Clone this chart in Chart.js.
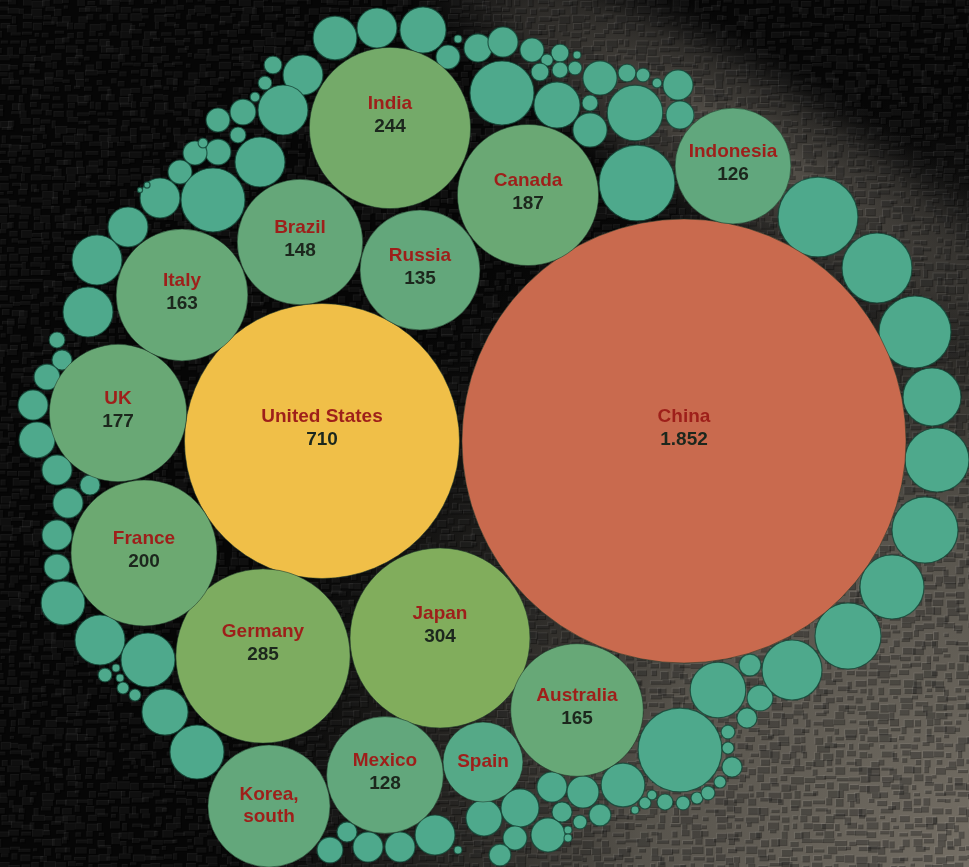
<!DOCTYPE html>
<html>
<head>
<meta charset="utf-8">
<script src="https://cdn.jsdelivr.net/npm/chart.js@4/dist/chart.umd.min.js"></script>
<style>
  html, body { margin: 0; padding: 0; background: #000; }
  #grafico { display: block; }
</style>
</head>
<body>
<canvas id="grafico" width="969" height="867"></canvas>
<script>
// paises com rotulo
const paises = ['China', 'United States', 'Japan', 'Germany', 'India', 'France', 'Canada', 'UK',
    'Australia', 'Italy', 'Brazil', 'Korea, south', 'Russia', 'Mexico', 'Indonesia', 'Spain'];
const valores = [1852, 710, 304, 285, 244, 200, 187, 177, 165, 163, 148, 140, 135, 128, 126, 60];
const semValor = ['Korea, south', 'Spain'];
const posX = [684, 322, 440, 263, 390, 144, 528, 118, 577, 182, 300, 269, 420, 385, 733, 483];
const posY = [441, 441, 638, 656, 128, 553, 195, 413, 710, 295, 242, 806, 270, 775, 166, 762];

// demais paises (sem rotulo)
const outrosValores = [18, 15, 20, 0.6, 5.4, 7.4, 8.5, 5.4, 3, 0.6, 1.4, 3, 2.4, 1.8, 38.5, 20, 2.4, 11, 11, 3,
    1.8, 0.9, 8.5, 29, 7.4, 54, 15, 3, 1.8, 0.9, 23.5, 6.3, 5.4, 2.4, 23.5, 6.3, 5.4, 0.9, 5.4, 38.5,
    15, 0.35, 0.25, 15, 23.5, 23.5, 2.4, 3.8, 6.3, 8.5, 12.2, 8.5, 3.8, 8.5, 8.5, 6.3, 18, 23.5, 27.4, 1.8,
    0.6, 0.6, 1.35, 1.35, 20, 27.4, 3.8, 6.3, 8.5, 8.5, 15, 0.6, 12.2, 13.6, 5.4, 4.5, 10.9, 8.5, 3.8, 1.8,
    0.6, 0.6, 9.6, 4.5, 18, 0.6, 1.35, 0.9, 2.4, 1.8, 1.35, 1.8, 66, 1.35, 3.8, 1.35, 1.8, 3.8, 29, 4.5,
    6.3, 33.8, 41, 38.5, 41, 38.5, 31.6, 48.7, 46, 60];
const outrosX = [335, 377, 423, 458, 448, 478, 503, 532, 560, 577, 547, 540, 560, 575, 502, 557, 590, 590, 600, 627,
    643, 657, 678, 635, 680, 637, 303, 273, 265, 255, 283, 243, 218, 238, 260, 218, 195, 203, 180, 213,
    160, 147, 140, 128, 97, 88, 57, 62, 47, 33, 37, 57, 90, 68, 57, 57, 63, 100, 148, 105,
    116, 120, 123, 135, 165, 197, 347, 330, 368, 400, 435, 458, 484, 520, 515, 500, 548, 552, 562, 580,
    568, 568, 583, 600, 623, 635, 645, 652, 665, 683, 697, 708, 680, 720, 732, 728, 728, 747, 718, 750,
    760, 792, 848, 892, 925, 937, 932, 915, 877, 818];
const outrosY = [38, 28, 30, 39, 57, 48, 42, 50, 53, 55, 60, 72, 70, 68, 93, 105, 103, 130, 78, 73,
    75, 83, 85, 113, 115, 183, 75, 65, 83, 97, 110, 112, 120, 135, 162, 152, 153, 143, 172, 200,
    198, 185, 190, 227, 260, 312, 340, 360, 377, 405, 440, 470, 485, 503, 535, 567, 603, 640, 660, 675,
    668, 678, 688, 695, 712, 752, 832, 850, 847, 847, 835, 850, 818, 808, 838, 855, 835, 787, 812, 822,
    830, 838, 792, 815, 785, 810, 803, 795, 802, 803, 798, 793, 750, 782, 767, 748, 732, 718, 690, 665,
    698, 670, 636, 587, 530, 460, 397, 332, 268, 217];

const LARGURA = 969, ALTURA = 867;
const FATOR_RAIO = 5.16; // pixels por raiz do valor (area proporcional)

// escala de cores por valor
const paradasCor = [
    [0, [78, 169, 140]], [60, [85, 169, 135]], [130, [98, 167, 124]], [180, [105, 168, 117]],
    [250, [117, 170, 104]], [300, [128, 173, 92]], [710, [240, 191, 72]], [1852, [201, 106, 78]]
];
function corPorValor(v) {
    for (let i = 1; i < paradasCor.length; i++) {
        const [v0, c0] = paradasCor[i - 1];
        const [v1, c1] = paradasCor[i];
        if (v <= v1) {
            const t = (v - v0) / (v1 - v0);
            const c = c0.map((x, k) => Math.round(x + (c1[k] - x) * t));
            return `rgb(${c[0]},${c[1]},${c[2]})`;
        }
    }
    return 'rgb(201,106,78)';
}

function hash(n) {
    const x = Math.sin(n * 12.9898) * 43758.5453;
    return x - Math.floor(x);
}

const fundo = {
    id: 'fundo',
    beforeDraw(chart) {
        const { ctx, width, height } = chart;
        ctx.save();
        ctx.fillStyle = '#060606';
        ctx.fillRect(0, 0, width, height);

        // cinza no canto inferior direito
        let g = ctx.createRadialGradient(width * 1.02, height * 1.0, 0, width * 1.02, height * 1.0, width * 0.8);
        g.addColorStop(0, 'rgba(118,112,102,1)');
        g.addColorStop(0.45, 'rgba(94,90,82,0.92)');
        g.addColorStop(0.8, 'rgba(52,50,46,0.45)');
        g.addColorStop(1, 'rgba(20,20,20,0)');
        ctx.fillStyle = g;
        ctx.fillRect(0, 0, width, height);

        // faixa clara diagonal no alto
        ctx.save();
        ctx.translate(width * 0.77, height * 0.17);
        ctx.rotate(0.55);
        ctx.scale(2.4, 0.55);
        g = ctx.createRadialGradient(0, 0, 0, 0, 0, 180);
        g.addColorStop(0, 'rgba(98,93,85,0.95)');
        g.addColorStop(0.6, 'rgba(70,67,62,0.6)');
        g.addColorStop(1, 'rgba(30,30,30,0)');
        ctx.fillStyle = g;
        ctx.beginPath();
        ctx.arc(0, 0, 180, 0, Math.PI * 2);
        ctx.fill();
        ctx.restore();

        // textura em relevo
        let n = 1;
        for (let y = 0; y < height; y += 8) {
            for (let x = 0; x < width; x += 11) {
                const w = 4 + hash(n) * 9;
                const h = 3 + hash(n + 1) * 5;
                const ox = hash(n + 2) * 6 - 3;
                const oy = hash(n + 3) * 4 - 2;
                ctx.fillStyle = 'rgba(255,255,255,0.07)';
                ctx.fillRect(x + ox - 1, y + oy - 1, w, h);
                ctx.fillStyle = 'rgba(0,0,0,0.32)';
                ctx.fillRect(x + ox, y + oy, w, h);
                n += 4;
            }
        }
        ctx.restore();
    }
};

const formatarValor = v => String(v).replace(/\B(?=(\d{3})+(?!\d))/g, '.');

const rotulos = {
    id: 'rotulos',
    afterDatasetsDraw(chart) {
        const { ctx } = chart;
        const meta = chart.getDatasetMeta(0);
        ctx.save();
        ctx.textAlign = 'center';
        ctx.textBaseline = 'middle';
        ctx.font = 'bold 19px "Liberation Sans", Arial, sans-serif';
        meta.data.forEach((el, i) => {
            const nome = paises[i];
            const r = el.options.radius;
            if (semValor.includes(nome)) {
                const linhas = nome.includes(',') ? [nome.split(',')[0] + ',', nome.split(',')[1].trim()] : [nome];
                const y0 = el.y - (linhas.length - 1) * 11;
                ctx.fillStyle = '#9e1f1a';
                linhas.forEach((l, k) => ctx.fillText(l, el.x, y0 + k * 22));
            } else {
                const off = r > 78 ? -24 : -14;
                ctx.fillStyle = '#9e1f1a';
                ctx.fillText(nome, el.x, el.y + off);
                ctx.fillStyle = '#1c271d';
                ctx.fillText(formatarValor(valores[i]), el.x, el.y + off + 23);
            }
        });
        ctx.restore();
    }
};

const raio = ctx => FATOR_RAIO * (ctx.chart.width / LARGURA) * Math.sqrt(ctx.raw.v);

const pontosRotulados = paises.map((p, i) => ({ x: posX[i], y: posY[i], v: valores[i] }));
const pontosOutros = outrosValores.map((v, i) => ({ x: outrosX[i], y: outrosY[i], v: v }));

new Chart(document.getElementById('grafico'), {
    type: 'bubble',
    data: {
        datasets: [{
            label: 'Paises',
            data: pontosRotulados,
            backgroundColor: pontosRotulados.map(p => corPorValor(p.v)),
            borderColor: 'rgba(30,55,40,0.55)',
            borderWidth: 1,
            radius: raio,
            clip: false
        }, {
            label: 'Outros',
            data: pontosOutros,
            backgroundColor: corPorValor(0),
            borderColor: 'rgba(20,70,55,0.8)',
            borderWidth: 1.2,
            radius: raio,
            clip: false
        }]
    },
    options: {
        responsive: false,
        animation: false,
        events: [],
        layout: { padding: 0, autoPadding: false },
        plugins: {
            legend: { display: false },
            tooltip: { enabled: false }
        },
        scales: {
            x: { type: 'linear', min: 0, max: LARGURA, display: false },
            y: { type: 'linear', min: 0, max: ALTURA, reverse: true, display: false }
        }
    },
    plugins: [fundo, rotulos]
});
</script>
</body>
</html>
